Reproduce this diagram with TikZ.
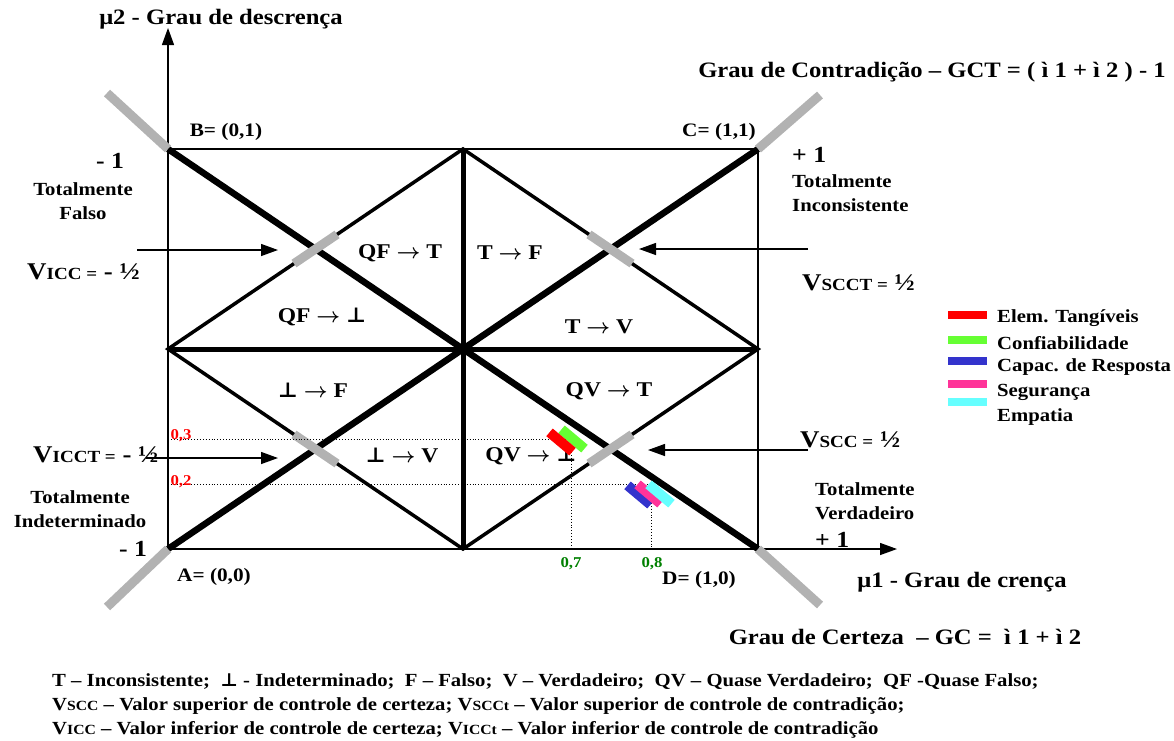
\documentclass[tikz,border=0pt]{standalone}
\usepackage{fontspec}
\setmainfont{Liberation Serif}[FakeStretch=1.12]
\newfontfamily\symf{DejaVu Serif}
\usetikzlibrary{calc,arrows.meta}
\definecolor{barg}{RGB}{178,178,178}
\definecolor{cred}{RGB}{255,0,0}
\definecolor{cgreen}{RGB}{102,255,51}
\definecolor{cblue}{RGB}{51,51,204}
\definecolor{cpink}{RGB}{255,51,153}
\definecolor{ccyan}{RGB}{102,255,255}
\definecolor{dgreen}{RGB}{0,128,0}
\newcommand{\fs}[2]{\fontsize{#1}{#2}\selectfont}
\newcommand{\perpc}{{\symf\bfseries ⊥}}
\newcommand{\rarr}{{\boldmath$\rightarrow$}}
\newcommand{\smc}[2]{{\fs{#1}{#1}#2}}
\tikzset{
  txt/.style={inner sep=0pt, font=\bfseries\fs{18.5}{24}},
  ttl/.style={inner sep=0pt, font=\bfseries\fs{22}{26}},
  reg/.style={inner sep=0pt, font=\bfseries\fs{21}{24}},
  one/.style={inner sep=0pt, font=\bfseries\fs{23}{24}},
  lab/.style={inner sep=0pt, font=\bfseries\fs{19}{24}},
  note/.style={inner sep=0pt, font=\bfseries\fs{18.5}{24}, anchor=west},
  ctl/.style={inner sep=0pt, font=\bfseries\fs{24}{26}, anchor=west},
  tick/.style={inner sep=0pt, font=\bfseries\fs{15}{18}},
  sqedge/.style={line width=1.3pt},
  axis/.style={line width=1.3pt, -{Triangle[length=17pt,width=12pt]}},
  diag/.style={line width=6.5pt},
  midl/.style={line width=5pt},
  thinl/.style={line width=3.5pt},
  graybar/.style={line width=9pt, draw=barg},
  ptr/.style={line width=1.3pt, -{Triangle[length=17pt,width=12pt]}},
  dotl/.style={line width=0.9pt, dotted},
  fbar/.style={minimum width=30pt, minimum height=10pt, inner sep=0pt, rotate=-40},
  legbox/.style={minimum width=39pt, minimum height=8pt, inner sep=0pt},
}
\begin{document}
\begin{tikzpicture}[x=1pt,y=-1pt]
\useasboundingbox (0,0) rectangle (1174,740);
% key points
\coordinate (A) at (168,549);
\coordinate (B) at (168,149);
\coordinate (C) at (758,149);
\coordinate (D) at (758,549);
\coordinate (ML) at (168,349);
\coordinate (MR) at (758,349);
\coordinate (MT) at (463,149);
\coordinate (MB) at (463,549);
\coordinate (Ytip) at (168,28);
\coordinate (Xtip) at (897,549);
\coordinate (Bo) at (107,93);
\coordinate (Co) at (820,95);
\coordinate (Ao) at (107,607);
\coordinate (Do) at (820,605);
% frame and axes
\draw[sqedge] (A) rectangle (C);
\draw[axis] (A) -- (Ytip);
\draw[axis] (A) -- (Xtip);
% inner structure
\draw[midl] (ML) -- (MR);
\draw[midl] (MT) -- (MB);
\draw[thinl] (ML) -- (MT) -- (MR) -- (MB) -- cycle;
\draw[diag] (B) -- (D);
\draw[diag] (A) -- (C);
% gray bars
\draw[graybar] ($(ML)!0.427!(MT)$) -- ($(ML)!0.573!(MT)$);
\draw[graybar] ($(MT)!0.427!(MR)$) -- ($(MT)!0.573!(MR)$);
\draw[graybar] ($(ML)!0.427!(MB)$) -- ($(ML)!0.573!(MB)$);
\draw[graybar] ($(MB)!0.427!(MR)$) -- ($(MB)!0.573!(MR)$);
\draw[graybar] (B) -- (Bo);
\draw[graybar] (C) -- (Co);
\draw[graybar] (A) -- (Ao);
\draw[graybar] (D) -- (Do);
% pointer arrows
\coordinate (p1s) at (137,250); \coordinate (p1e) at (278,250);
\coordinate (p2s) at (146,458); \coordinate (p2e) at (278,458);
\coordinate (p3s) at (808,249); \coordinate (p3e) at (639,249);
\coordinate (p4s) at (808,450); \coordinate (p4e) at (648,450);
\draw[ptr] (p1s) -- (p1e);
\draw[ptr] (p2s) -- (p2e);
\draw[ptr] (p3s) -- (p3e);
\draw[ptr] (p4s) -- (p4e);
% dotted guides
\coordinate (d3a) at (168,439); \coordinate (d3b) at (570,439);
\coordinate (d2a) at (168,484); \coordinate (d2b) at (650,484);
\coordinate (v7a) at (571,452); \coordinate (v7b) at (571,549);
\coordinate (v8a) at (651,500); \coordinate (v8b) at (651,549);
\draw[dotl] (d3a) -- (d3b);
\draw[dotl] (d2a) -- (d2b);
\draw[dotl] (v7a) -- (v7b);
\draw[dotl] (v8a) -- (v8b);
% region labels
\node[reg] (r1) at (400,253) {QF \rarr\ T};
\node[reg] (r2) at (510,253) {T \rarr\ F};
\node[reg] (r3) at (322,317) {QF \rarr\ \perpc};
\node[reg] (r4) at (599,327) {T \rarr\ V};
\node[reg] (r5) at (313,390) {\perpc\ \rarr\ F};
\node[reg] (r6) at (609,391) {QV \rarr\ T};
\node[reg] (r7) at (402,455) {\perpc\ \rarr\ V};
\node[reg] (r8) at (531,456) {QV \rarr\ \perpc};
% colored markers
\node[fbar, fill=cgreen] (mg) at (573,439) {};
\node[fbar, fill=cred] (mr) at (561,442) {};
\node[fbar, fill=cblue] (mb) at (639,495) {};
\node[fbar, fill=cpink] (mp) at (649,494) {};
\node[fbar, fill=ccyan] (mc) at (660,494) {};
% ticks
\node[tick, text=cred] (t3) at (181,436) {0,3};
\node[tick, text=cred] (t2) at (181,482) {0,2};
\node[tick, text=dgreen] (t7) at (571,564) {0,7};
\node[tick, text=dgreen] (t8) at (652,564) {0,8};
% titles
\node[ttl] (ymu) at (221,19) {μ2 - Grau de descrença};
\node[ttl] (gct) at (932,72) {Grau de Contradição – GCT = ( ì 1 + ì 2 ) - 1};
\node[ttl] (xmu) at (962,582) {μ1 - Grau de crença};
\node[ttl] (gc) at (905,637) {Grau de Certeza\ \ – GC = \ ì 1 + ì 2};
% corner labels
\node[lab] (lB) at (226,132) {B= (0,1)};
\node[lab] (lC) at (719,132) {C= (1,1)};
\node[lab] (lA) at (214,577) {A= (0,0)};
\node[lab] (lD) at (699,580) {D= (1,0)};
% extreme values
\node[one] (m1t) at (110,161) {- 1};
\node[one] (m1b) at (133,549) {- 1};
\node[one, anchor=west] (p1t) at (792,155) {+ 1};
\node[one, anchor=west] (p1b) at (815,540) {+ 1};
\node[txt, align=center] (tf) at (83,201) {Totalmente\\Falso};
\node[txt, align=center] (ti) at (80,509) {Totalmente\\Indeterminado};
\node[txt, align=left, anchor=west] (tinc) at (792,193) {Totalmente\\Inconsistente};
\node[txt, align=left, anchor=west] (tv) at (815,501) {Totalmente\\Verdadeiro};
% control values
\node[ctl] (vicc) at (27,272) {V\smc{17}{ICC =} - ½};
\node[ctl] (vscct) at (802,283) {V\smc{17}{SCCT =} ½};
\node[ctl] (vicct) at (33,455) {V\smc{17}{ICCT =} - ½};
\node[ctl] (vscc) at (800,440) {V\smc{17}{SCC =} ½};
% legend
\node[legbox, fill=cred] (k1) at (967.5,315) {};
\node[legbox, fill=cgreen] (k2) at (967.5,340) {};
\node[legbox, fill=cblue] (k3) at (967.5,361) {};
\node[legbox, fill=cpink] (k4) at (967.5,384) {};
\node[legbox, fill=ccyan] (k5) at (967.5,402) {};
\node[txt, anchor=west] (e1) at (997,318) {Elem. Tangíveis};
\node[txt, anchor=west] (e2) at (997,343) {Confiabilidade};
\node[txt, anchor=west] (e3) at (997,367) {Capac. de Resposta};
\node[txt, anchor=west] (e4) at (997,392) {Segurança};
\node[txt, anchor=west] (e5) at (997,417) {Empatia};
% notes
\node[note] (n1) at (52,682) {T – Inconsistente;\ \ \perpc\ - Indeterminado;\ \ F – Falso;\ \ V – Verdadeiro;\ \ QV – Quase Verdadeiro;\ \ QF -Quase Falso;};
\node[note] (n2) at (52,706) {V\smc{14}{SCC} – Valor superior de controle de certeza; V\smc{14}{SCCt} – Valor superior de controle de contradição;};
\node[note] (n3) at (52,730) {V\smc{14}{ICC} – Valor inferior de controle de certeza; V\smc{14}{ICCt} – Valor inferior de controle de contradição};
\end{tikzpicture}
\end{document}
